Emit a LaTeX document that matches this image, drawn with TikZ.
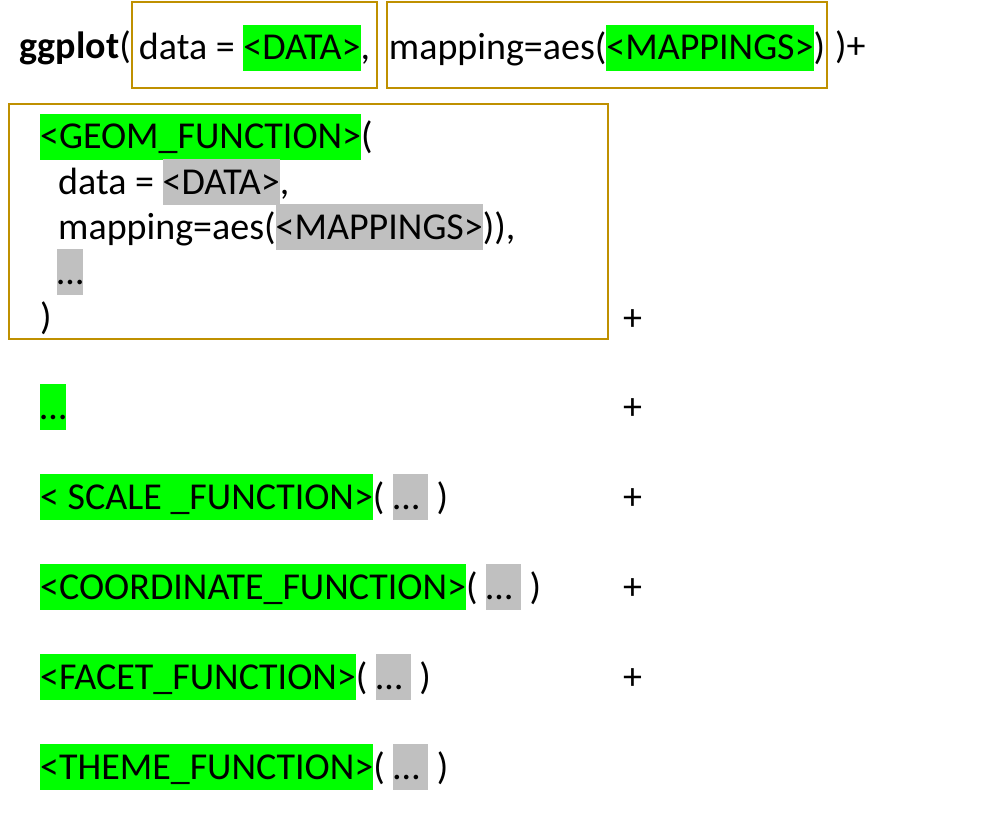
\documentclass[tikz,border=0pt]{standalone}
\usepackage{fontspec}
\setmainfont{Carlito}
\usepackage{xcolor}
\usetikzlibrary{positioning}
\definecolor{hlgreen}{HTML}{00FF00}
\definecolor{hlgray}{HTML}{C0C0C0}
\definecolor{framegold}{HTML}{BF9000}
% highlighted pieces of code
\newcommand{\hlg}[1]{{\setlength{\fboxsep}{0pt}\colorbox{hlgreen}{\rule[-11pt]{0pt}{46pt}#1}}}
\newcommand{\hly}[1]{{\setlength{\fboxsep}{0pt}\colorbox{hlgray}{\rule[-11pt]{0pt}{46pt}#1}}}
\tikzset{
  code/.style={font=\fontsize{38}{45}\selectfont, inner sep=0pt, anchor=base west},
  frame/.style={draw=framegold, line width=2pt, inner sep=0pt,
                font=\fontsize{38}{45}\selectfont, anchor=north west,
                minimum height=86pt, text height=41pt, text depth=11pt},
}

\begin{document}
\begin{tikzpicture}[x=1pt, y=-1pt]
  \useasboundingbox[fill=white] (0,0) rectangle (1008,813);

  % first line: ggplot( ... )+
  \node[frame, minimum width=245pt] (databox) at (131,1) {data = \hlg{<DATA>},};
  \node[frame, minimum width=440pt] (mapbox) at (386,1) {mapping=aes(\hlg{<MAPPINGS>})};
  \node[code, anchor=base east] (ggplot) at (131,59) {\textbf{ggplot}(};
  \node[code] (plusone) at (835,59) {)+};

  % geom layer
  \node[frame, minimum width=599pt, minimum height=235pt] (geombox) at (8,103) {};
  \node[code] (geomfn) at (40,149) {\hlg{<GEOM\_FUNCTION>}(};
  \node[code] (geomdata) at (58,194) {data = \hly{<DATA>},};
  \node[code] (geommap) at (58,239) {mapping=aes(\hly{<MAPPINGS>})),};
  \node[code] (geomdots) at (57,284) {\hly{…}};
  \node[code] (geomclose) at (40,329) {)};
  \node[code] (plusgeom) at (623,330) {+};

  % further layers
  \node[code] (moredots) at (40,419) {\hlg{…}};
  \node[code] (plusdots) at (623,419) {+};
  \node[code] (scalefn) at (40,509) {\hlg{< SCALE \_FUNCTION>}( \hly{… } )};
  \node[code] (plusscale) at (623,509) {+};
  \node[code] (coordfn) at (40,599) {\hlg{<COORDINATE\_FUNCTION>}( \hly{… } )};
  \node[code] (pluscoord) at (623,599) {+};
  \node[code] (facetfn) at (40,689) {\hlg{<FACET\_FUNCTION>}( \hly{… } )};
  \node[code] (plusfacet) at (623,689) {+};
  \node[code] (themefn) at (40,779) {\hlg{<THEME\_FUNCTION>}( \hly{… } )};
\end{tikzpicture}
\end{document}
